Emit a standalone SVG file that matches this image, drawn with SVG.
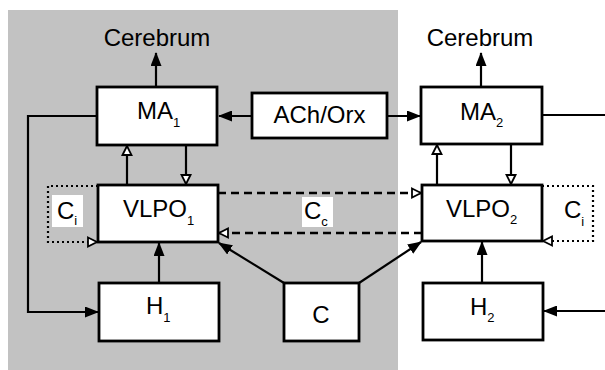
<svg xmlns="http://www.w3.org/2000/svg" width="605" height="370" viewBox="0 0 605 370">
<style>
.box{fill:#fff;stroke:#000;stroke-width:2.8}
.t{font-family:"Liberation Sans",Arial,sans-serif;font-size:24px;fill:#000}
.s{font-size:13px}
.ln{fill:none;stroke:#000;stroke-width:2.2}
.da{fill:none;stroke:#000;stroke-width:2.4;stroke-dasharray:8,5}
.dt{fill:none;stroke:#000;stroke-width:2.2;stroke-dasharray:2,3}
.lbl{fill:#fff}
</style>
<defs>
<marker id="af" markerUnits="userSpaceOnUse" markerWidth="14" markerHeight="11" refX="13" refY="5.5" orient="auto">
<path d="M0,0 L14,5.5 L0,11 Z" fill="#000"/>
</marker>
<marker id="ao" markerUnits="userSpaceOnUse" markerWidth="12" markerHeight="12" refX="10" refY="6" orient="auto">
<path d="M1,1.5 L10,6 L1,10.5 Z" fill="#fff" stroke="#000" stroke-width="1.8"/>
</marker>
</defs>
<rect x="8" y="10" width="390" height="360" fill="#c2c2c2"/>
<rect class="lbl" x="52" y="195" width="31" height="32"/>
<rect class="lbl" x="302" y="197" width="31" height="30"/>
<g id="connectors">
<path class="ln" d="M156,87 V53" marker-end="url(#af)"/>
<path class="ln" d="M481,87 V53" marker-end="url(#af)"/>
<path class="ln" d="M252,116 H219" marker-end="url(#af)"/>
<path class="ln" d="M387,116 H420" marker-end="url(#af)"/>
<path class="ln" d="M542,115 H605"/>
<path class="ln" d="M186,145 V184" marker-end="url(#ao)"/>
<path class="ln" d="M127,185 V146" marker-end="url(#ao)"/>
<path class="ln" d="M511,144 V184" marker-end="url(#ao)"/>
<path class="ln" d="M437,185 V145" marker-end="url(#ao)"/>
<path class="da" d="M218,193 H421" marker-end="url(#ao)"/>
<path class="da" d="M422,233 H219" marker-end="url(#ao)"/>
<path class="dt" d="M98,186 H48 V242 H97" marker-end="url(#ao)"/>
<path class="dt" d="M542,186 H593 V241 H543" marker-end="url(#ao)"/>
<path class="ln" d="M159,283 V243" marker-end="url(#af)"/>
<path class="ln" d="M97,116 H28 V312 H98" marker-end="url(#af)"/>
<path class="ln" d="M284,283 L219,243" marker-end="url(#af)"/>
<path class="ln" d="M359,283 L421,242" marker-end="url(#af)"/>
<path class="ln" d="M482,283 V242" marker-end="url(#af)"/>
<path class="ln" d="M605,311 H544" marker-end="url(#af)"/>
</g>
<g id="cerebrum1"><text class="t" x="157" y="46" text-anchor="middle">Cerebrum</text></g>
<g id="cerebrum2"><text class="t" x="480" y="46" text-anchor="middle">Cerebrum</text></g>
<g id="ma1"><rect class="box" x="97" y="87" width="120" height="58"/><text class="t" x="137" y="119">MA<tspan class="s" dy="8">1</tspan></text></g>
<g id="achorx"><rect class="box" x="252" y="93" width="135" height="45"/><text class="t" x="319.5" y="123" text-anchor="middle">ACh/Orx</text></g>
<g id="ma2"><rect class="box" x="421" y="87" width="121" height="57"/><text class="t" x="460" y="120">MA<tspan class="s" dy="7">2</tspan></text></g>
<g id="vlpo1"><rect class="box" x="98" y="185" width="120" height="57"/><text class="t" x="123" y="217">VLPO<tspan class="s" dy="8">1</tspan></text></g>
<g id="vlpo2"><rect class="box" x="422" y="185" width="120" height="56"/><text class="t" x="446" y="217">VLPO<tspan class="s" dy="7">2</tspan></text></g>
<g id="ci1"><text class="t" x="57" y="219">C<tspan class="s" dy="6">i</tspan></text></g>
<g id="cc"><text class="t" x="304" y="219">C<tspan class="s" dy="7">c</tspan></text></g>
<g id="ci2"><text class="t" x="564" y="218">C<tspan class="s" dy="8">i</tspan></text></g>
<g id="h1"><rect class="box" x="99" y="283" width="120" height="58"/><text class="t" x="146" y="314">H<tspan class="s" dy="8">1</tspan></text></g>
<g id="c"><rect class="box" x="284" y="283" width="75" height="58"/><text class="t" x="321" y="323" text-anchor="middle">C</text></g>
<g id="h2"><rect class="box" x="423" y="283" width="120" height="57"/><text class="t" x="470" y="315">H<tspan class="s" dy="7">2</tspan></text></g>
</svg>
